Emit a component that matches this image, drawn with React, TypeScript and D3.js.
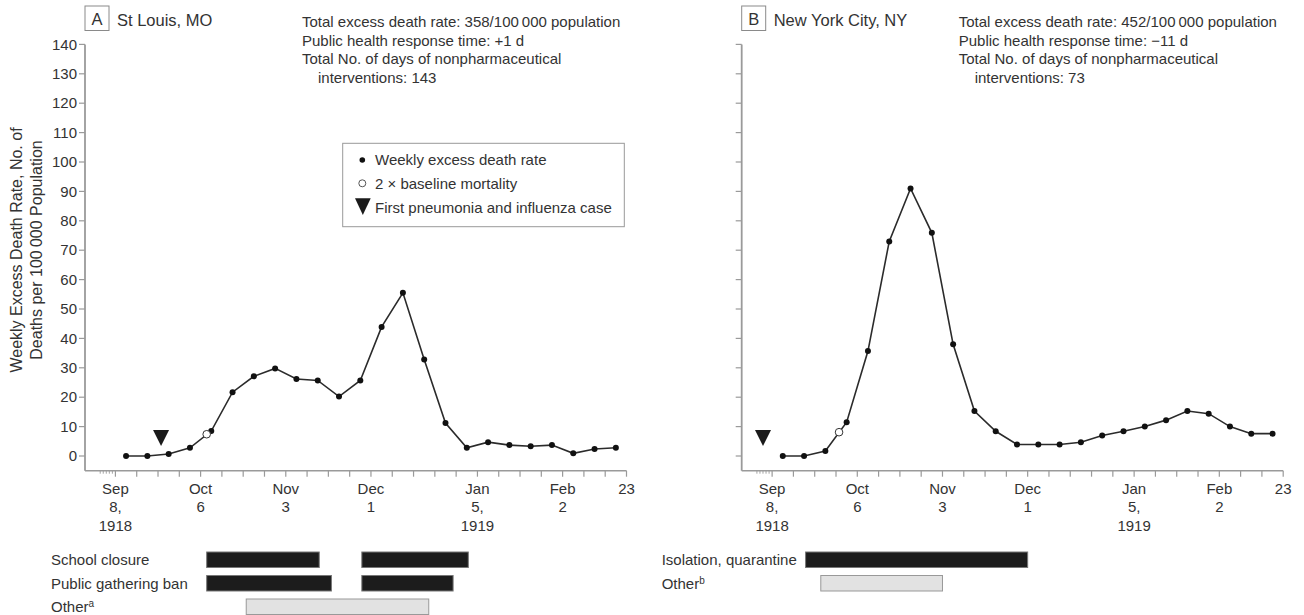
import React from 'react';
import * as d3 from 'd3';

const parse = d3.utcParse('%Y-%m-%d');

// ---- data ----
const firstWeek = '1918-09-08';
const lastTick = '1919-02-23';
const axisStart = '1918-08-29';

const stLouisRates = [0, 0, 0.7, 2.8, 8.5, 21.7, 27.1, 29.8, 26.2, 25.7, 20.2, 25.7,
  43.9, 55.5, 32.8, 11.2, 2.8, 4.7, 3.7, 3.3, 3.7, 0.9, 2.4, 2.8];
const nycRates = [0, 0, 1.7, 11.5, 35.7, 73.0, 91.0, 75.9, 38.0, 15.3, 8.4, 3.9,
  3.9, 3.9, 4.7, 7.0, 8.4, 10.0, 12.2, 15.3, 14.4, 10.0, 7.6, 7.6];

const yTickValues = [0, 10, 20, 30, 40, 50, 60, 70, 80, 90, 100, 110, 120, 130, 140];

const xTickLabels = [
  { date: '1918-09-08', lines: ['Sep', '8,', '1918'] },
  { date: '1918-10-06', lines: ['Oct', '6'] },
  { date: '1918-11-03', lines: ['Nov', '3'] },
  { date: '1918-12-01', lines: ['Dec', '1'] },
  { date: '1919-01-05', lines: ['Jan', '5,', '1919'] },
  { date: '1919-02-02', lines: ['Feb', '2'] },
  { date: '1919-02-23', lines: ['23'] },
];
const minorTickDates = ['1918-09-03', '1918-09-04', '1918-09-05', '1918-09-06', '1918-09-07'];

const stLouisBaseline = { date: '1918-10-08', value: 7.4 };
const nycBaseline = { date: '1918-09-30', value: 8.1 };
const stLouisFirstCase = '1918-09-23';
const nycFirstCase = '1918-09-05';

const stLouisStats = [
  'Total excess death rate: 358/100\u2009000 population',
  'Public health response time: +1 d',
  'Total No. of days of nonpharmaceutical',
  'interventions: 143',
];
const nycStats = [
  'Total excess death rate: 452/100\u2009000 population',
  'Public health response time: \u221211 d',
  'Total No. of days of nonpharmaceutical',
  'interventions: 73',
];

const stLouisInterventions = [
  { label: 'School closure', sup: '', other: false, spans: [['1918-10-08', '1918-11-14'], ['1918-11-28', '1919-01-02']] },
  { label: 'Public gathering ban', sup: '', other: false, spans: [['1918-10-08', '1918-11-18'], ['1918-11-28', '1918-12-28']] },
  { label: 'Other', sup: 'a', other: true, spans: [['1918-10-21', '1918-12-20']] },
];
const nycInterventions = [
  { label: 'Isolation, quarantine', sup: '', other: false, spans: [['1918-09-19', '1918-12-01']] },
  { label: 'Other', sup: 'b', other: true, spans: [['1918-09-24', '1918-11-03']] },
];

const legendItems = ['Weekly excess death rate', '2 \u00d7 baseline mortality', 'First pneumonia and influenza case'];

// ---- layout ----
const FONT = '"Liberation Sans", Arial, Helvetica, sans-serif';
const TEXT = '#333';
const AXIS = '#9a9a9a';
const PLOT_W = 541.5;

function Panel(props: any) {
  const { left, letter, title, rates, baseline, firstCase, stats, interventions, labelX, showYLabels } = props;
  const x = d3.scaleUtc().domain([parse(axisStart)!, parse(lastTick)!]).range([left, left + PLOT_W]);
  const y = d3.scaleLinear().domain([-5, 140]).range([470.7, 44.4]);
  const start = parse(firstWeek)!;
  const pts = rates.map((v: number, i: number) => ({
    d: d3.utcHour.offset(d3.utcDay.offset(start, 7 * i), 84),
    v,
  }));
  const line = d3.line<any>().x(p => x(p.d)).y(p => y(p.v));
  const weekTicks = d3.utcSunday.range(start, d3.utcDay.offset(parse(lastTick)!, 1));
  const axisY = y(-5);
  const fc = x(parse(firstCase)!);
  const fcTip = y(3.4);

  return (
    <g>
      {/* header */}
      <rect x={left} y={6} width={24} height={24.5} fill="none" stroke="#8a8a8a" strokeWidth={1} />
      <text x={left + 12} y={24.5} textAnchor="middle" fontSize={16.5} fill={TEXT}>{letter}</text>
      <text x={left + 32} y={26} fontSize={16.5} fill={TEXT}>{title}</text>
      {stats.map((s: string, i: number) => (
        <text key={i} x={left + 217 + (i === 3 ? 16 : 0)} y={27 + i * 18.6} fontSize={15} fill={TEXT}>{s}</text>
      ))}

      {/* y axis */}
      <line x1={left} x2={left} y1={y(140)} y2={axisY} stroke={AXIS} strokeWidth={1.8} />
      {yTickValues.map(t => (
        <g key={t}>
          <line x1={left - 6} x2={left} y1={y(t)} y2={y(t)} stroke={AXIS} strokeWidth={1.2} />
          {showYLabels && (
            <text x={left - 8} y={y(t)} dy="0.35em" textAnchor="end" fontSize={15} fill={TEXT}>{t}</text>
          )}
        </g>
      ))}

      {/* x axis */}
      <line x1={left} x2={x(parse(lastTick)!)} y1={axisY} y2={axisY} stroke={AXIS} strokeWidth={1.6} />
      {weekTicks.map((d, i) => (
        <line key={i} x1={x(d)} x2={x(d)} y1={axisY} y2={axisY + 6} stroke={AXIS} strokeWidth={1.2} />
      ))}
      {minorTickDates.map(s => (
        <line key={s} x1={x(parse(s)!)} x2={x(parse(s)!)} y1={axisY} y2={axisY + 3} stroke={AXIS} strokeWidth={0.9} />
      ))}
      {xTickLabels.map(t => (
        <text key={t.date} x={x(parse(t.date)!)} textAnchor="middle" fontSize={15} fill={TEXT}>
          {t.lines.map((l, i) => (
            <tspan key={i} x={x(parse(t.date)!)} y={493.5 + i * 18.6}>{l}</tspan>
          ))}
        </text>
      ))}

      {/* series */}
      <path d={line(pts) || ''} fill="none" stroke="#2b2b2b" strokeWidth={1.6} />
      {pts.map((p: any, i: number) => (
        <circle key={i} cx={x(p.d)} cy={y(p.v)} r={3} fill="#111" />
      ))}
      <circle cx={x(parse(baseline.date)!)} cy={y(baseline.value)} r={3.8} fill="#fff" stroke="#333" strokeWidth={1} />
      <path d={`M${fc - 8},${fcTip - 16}L${fc + 8},${fcTip - 16}L${fc},${fcTip}Z`} fill="#1a1a1a" />

      {/* interventions */}
      {interventions.map((row: any, i: number) => {
        const top = 552 + i * 23.5;
        return (
          <g key={i}>
            <text x={labelX} y={top + 7.8} dy="0.35em" fontSize={15} fill={TEXT}>
              {row.label}
              {row.sup && <tspan fontSize={10} dy="-5">{row.sup}</tspan>}
            </text>
            {row.spans.map((s: string[], j: number) => {
              const x0 = x(parse(s[0])!);
              const x1 = x(parse(s[1])!);
              return (
                <rect key={j} x={x0} y={top} width={x1 - x0} height={15.5}
                  fill={row.other ? '#e2e2e2' : '#1c1c1c'} stroke={row.other ? '#999' : '#777'} strokeWidth={1} />
              );
            })}
          </g>
        );
      })}
    </g>
  );
}

export default function App() {
  return (
    <svg width={1304} height={615} style={{ position: 'absolute', left: 0, top: 0, background: '#fff' }}
      fontFamily={FONT}>
      <rect width={1304} height={615} fill="#fff" />
      {/* y axis title */}
      <text transform="translate(21.5,250) rotate(-90)" textAnchor="middle" fontSize={16} fill={TEXT}>
        Weekly Excess Death Rate, No. of
      </text>
      <text transform="translate(42,250) rotate(-90)" textAnchor="middle" fontSize={16} fill={TEXT}>
        Deaths per 100{'\u2009'}000 Population
      </text>

      <Panel left={85} letter="A" title="St Louis, MO" rates={stLouisRates} baseline={stLouisBaseline}
        firstCase={stLouisFirstCase} stats={stLouisStats} interventions={stLouisInterventions}
        labelX={51} showYLabels />
      <Panel left={741.7} letter="B" title="New York City, NY" rates={nycRates} baseline={nycBaseline}
        firstCase={nycFirstCase} stats={nycStats} interventions={nycInterventions}
        labelX={661.7} showYLabels={false} />

      {/* legend */}
      <g>
        <rect x={342.7} y={143.3} width={281.6} height={83.4} fill="#fff" stroke="#999" strokeWidth={1} />
        <circle cx={362.3} cy={160} r={2.8} fill="#111" />
        <circle cx={362.3} cy={183.3} r={3.5} fill="#fff" stroke="#555" strokeWidth={1} />
        <path d="M355,198.3L370.7,198.3L362.85,215Z" fill="#1a1a1a" />
        {legendItems.map((t, i) => (
          <text key={i} x={375} y={160 + i * 23.65} dy="0.35em" fontSize={15} fill={TEXT}>{t}</text>
        ))}
      </g>
    </svg>
  );
}
